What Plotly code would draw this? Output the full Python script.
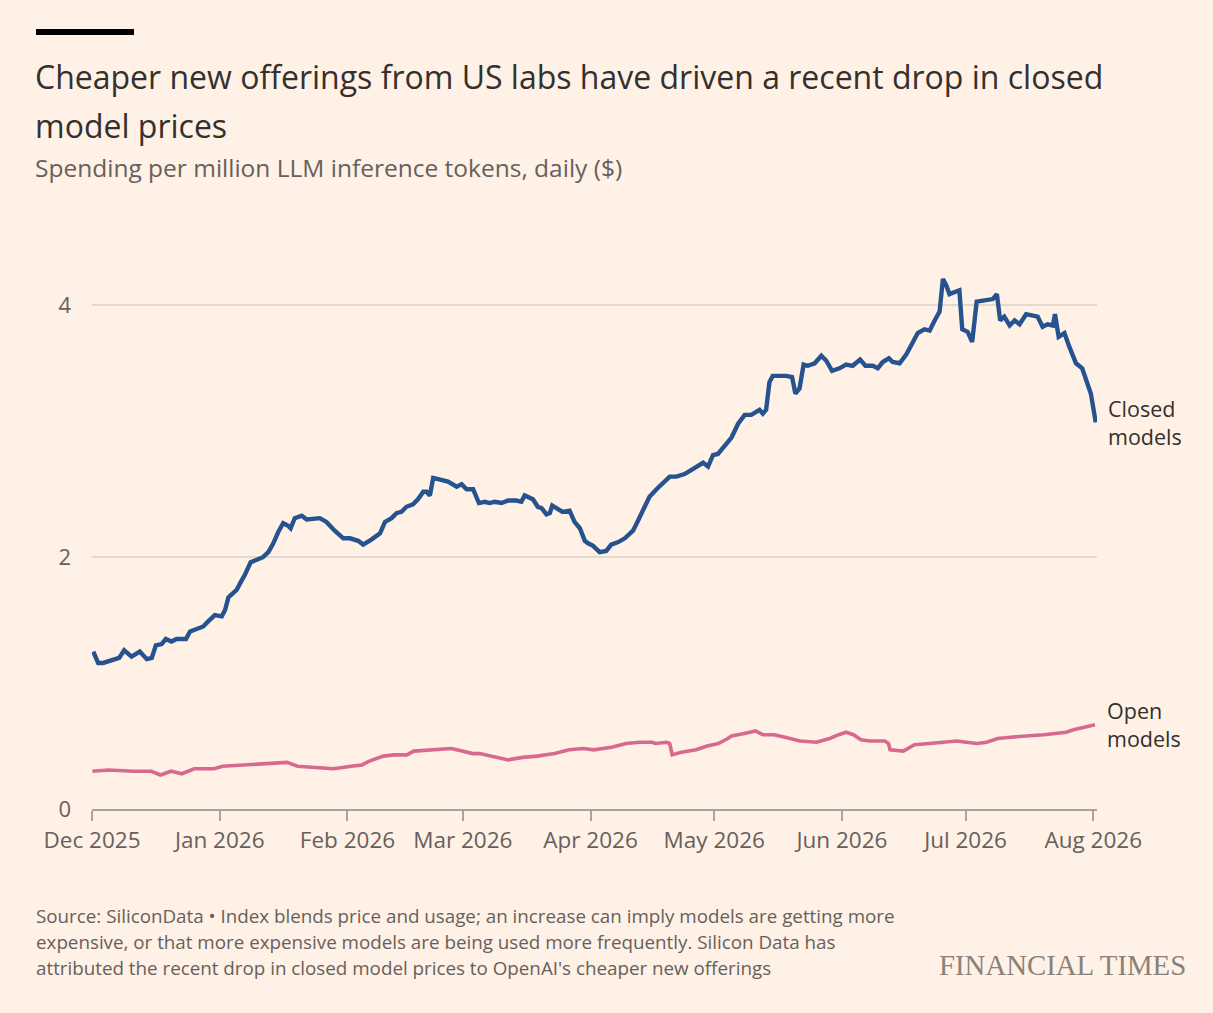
"""FT style line chart - closed vs open model token prices."""
import pandas as pd
import plotly.graph_objects as go

START = pd.Timestamp("2025-12-01")

# days since 1 Dec 2025 / value ($ per million tokens)
closed_days = [
    0.3, 1.5, 2.7, 5.2, 6.6, 7.8, 9.6, 11.6, 13.3, 14.5, 15.5, 16.9, 17.9, 19.3, 20.5,
    22.8, 23.8, 25.4, 27.0, 28.2, 29.8, 31.5, 32.3, 33.1, 34.3, 35.1, 35.9, 37.1, 38.5,
    39.9, 41.5, 42.8, 44.0, 45.2, 46.4, 47.6, 48.2, 49.2, 50.9, 52.1, 55.3, 56.9, 58.9,
    61.0, 62.6, 64.6, 65.8, 67.8, 69.9, 71.1, 72.7, 73.9, 75.1, 76.3, 77.9, 79.1, 80.4,
    81.2, 82.0, 82.8, 84.4, 86.4, 88.5, 89.7, 90.9, 92.5, 93.9, 95.3, 96.5, 97.7, 99.4,
    101.0, 103.0, 104.2, 105.0, 107.0, 108.2, 109.1, 110.3, 111.1, 111.7, 113.1, 114.2,
    115.9, 117.1, 118.4, 119.6, 120.4, 121.6, 123.2, 124.8, 126.0, 127.7, 129.3, 131.3,
    132.5, 133.7, 135.3, 137.0, 138.6, 140.2, 141.8, 143.8, 145.8, 148.3, 149.5, 150.7,
    151.9, 153.5, 155.2, 156.8, 158.4, 160.0, 161.2, 162.0, 162.8, 163.6, 164.4, 165.2,
    166.9, 168.5, 169.9, 170.7, 171.7, 172.7, 173.7, 175.4, 177.0, 178.2, 179.6, 181.4,
    183.0, 184.6, 186.4, 187.7, 189.5, 190.7, 191.9, 193.4, 194.3, 196.0, 197.6, 199.2,
    200.4, 202.0, 203.3, 204.5, 205.7, 206.5, 207.3, 208.1, 210.5, 211.2, 212.5, 213.6,
    214.7, 216.6, 218.6, 219.6, 220.4, 221.4, 222.7, 223.9, 225.1, 226.7, 228.3, 229.5,
    230.7, 231.9, 233.2, 233.7, 234.6, 236.0, 237.2, 238.8, 240.3, 241.2, 242.4, 243.6,
]
closed_vals = [
    1.25, 1.16, 1.16, 1.19, 1.20, 1.26, 1.21, 1.25, 1.19, 1.20, 1.30, 1.31, 1.35, 1.33, 1.35,
    1.35, 1.41, 1.43, 1.45, 1.49, 1.54, 1.53, 1.58, 1.68, 1.72, 1.74, 1.79, 1.86, 1.96,
    1.98, 2.00, 2.04, 2.11, 2.20, 2.27, 2.25, 2.23, 2.31, 2.33, 2.30, 2.31, 2.28, 2.21,
    2.15, 2.15, 2.13, 2.10, 2.14, 2.19, 2.28, 2.31, 2.35, 2.36, 2.40, 2.42, 2.46, 2.52,
    2.52, 2.49, 2.63, 2.62, 2.60, 2.56, 2.58, 2.54, 2.54, 2.43, 2.44, 2.43, 2.44, 2.43,
    2.45, 2.45, 2.44, 2.49, 2.46, 2.40, 2.39, 2.34, 2.35, 2.41, 2.38, 2.36,
    2.37, 2.28, 2.23, 2.13, 2.11, 2.09, 2.04, 2.05, 2.10, 2.12, 2.15, 2.21,
    2.29, 2.38, 2.48, 2.54, 2.59, 2.64, 2.64, 2.66, 2.70, 2.75, 2.72, 2.81,
    2.82, 2.89, 2.95, 3.06, 3.13, 3.13, 3.15, 3.17, 3.14, 3.17, 3.39, 3.44,
    3.44, 3.44, 3.43, 3.30, 3.34, 3.53, 3.52, 3.54, 3.60, 3.56, 3.48, 3.50,
    3.53, 3.52, 3.57, 3.52, 3.52, 3.50, 3.55, 3.58, 3.55, 3.54, 3.61, 3.70,
    3.78, 3.81, 3.80, 3.88, 3.95, 4.21, 4.16, 4.09, 4.12, 3.81, 3.79, 3.71,
    4.03, 4.04, 4.05, 4.09, 3.88, 3.91, 3.84, 3.88, 3.85, 3.93, 3.92, 3.91,
    3.83, 3.85, 3.84, 3.93, 3.75, 3.78, 3.67, 3.54, 3.50, 3.42, 3.30, 3.07,
]

open_days = [
    0.1, 4.0, 10.1, 14.4, 16.6, 19.2, 21.8, 24.8, 27.0, 29.6, 31.7, 36.1, 40.4, 47.3,
    49.9, 53.4, 58.6, 62.9, 65.5, 67.3, 70.7, 73.3, 76.4, 78.1, 82.0, 87.2, 89.8, 92.4,
    94.1, 96.7, 101.0, 104.5, 108.0, 112.3, 115.8, 119.2, 121.8, 126.1, 129.6, 132.9,
    135.9, 136.8, 139.5, 140.2, 140.8, 143.0, 146.6, 149.3, 152.0, 154.3, 155.2, 158.3,
    161.0, 162.8, 165.5, 168.2, 171.8, 175.8, 179.0, 181.2, 183.0, 184.8, 186.6, 188.8,
    192.4, 193.3, 193.7, 196.9, 199.6, 203.2, 206.8, 209.9, 212.2, 214.8, 217.1, 219.8,
    222.9, 227.4, 231.0, 236.4, 238.2, 240.8, 243.4,
]
open_vals = [
    0.30, 0.31, 0.30, 0.30, 0.27, 0.30, 0.28, 0.32, 0.32, 0.32, 0.34, 0.35, 0.36, 0.37,
    0.34, 0.33, 0.32, 0.34, 0.35, 0.38, 0.42, 0.43, 0.43, 0.46, 0.47, 0.48, 0.46, 0.44,
    0.44, 0.42, 0.39, 0.41, 0.42, 0.44, 0.47, 0.48, 0.47, 0.49, 0.52, 0.53,
    0.53, 0.52, 0.53, 0.52, 0.43, 0.45, 0.47, 0.50, 0.52, 0.56, 0.58, 0.60,
    0.62, 0.59, 0.59, 0.57, 0.54, 0.53, 0.56, 0.59, 0.61, 0.59, 0.55, 0.54,
    0.54, 0.52, 0.47, 0.46, 0.51, 0.52, 0.53, 0.54, 0.53, 0.52, 0.53, 0.56,
    0.57, 0.58, 0.59, 0.61, 0.63, 0.65, 0.67,
]

month_ticks = pd.date_range("2025-12-01", "2026-08-01", freq="MS")

BG = "#FFF1E5"
TXT = "#33302E"
MUTED = "#66605C"
FONT = "Open Sans, Noto Sans, sans-serif"

closed_x = START + pd.to_timedelta(closed_days, unit="D")
open_x = START + pd.to_timedelta(open_days, unit="D")

fig = go.Figure()
fig.add_trace(go.Scatter(x=open_x, y=open_vals, mode="lines", name="Open models",
                         line=dict(color="#D7698F", width=3.6), hoverinfo="x+y"))
fig.add_trace(go.Scatter(x=closed_x, y=closed_vals, mode="lines", name="Closed models",
                         line=dict(color="#26528F", width=4.4), hoverinfo="x+y"))

# end-of-line labels
for x, y, txt in [(closed_x[-1], closed_vals[-1], "Closed<br>models"),
                  (open_x[-1], open_vals[-1], "Open<br>models")]:
    fig.add_annotation(x=x, y=y, xref="x", yref="y", text=txt, showarrow=False,
                       xanchor="left", yanchor="middle", align="left", xshift=10,
                       font=dict(size=21.5, color=TXT, family=FONT))

# paper coords: plot area is x 92..1097 px, y 809..255 px
def px(x):
    return (x - 92) / 1005


def py(y):
    return (809 - y) / 554


head = [
    ("Cheaper new offerings from US labs have driven a recent drop in closed", 76, 32, TXT),
    ("model prices", 125, 32, TXT),
    ("Spending per million LLM inference tokens, daily ($)", 167, 24.5, MUTED),
]
for txt, y, size, col in head:
    fig.add_annotation(x=px(33), y=py(y), xref="paper", yref="paper", text=txt,
                       showarrow=False, xanchor="left", yanchor="middle",
                       font=dict(size=size, color=col, family=FONT))

source = [
    "Source: SiliconData • Index blends price and usage; an increase can imply models are getting more",
    "expensive, or that more expensive models are being used more frequently. Silicon Data has",
    "attributed the recent drop in closed model prices to OpenAI's cheaper new offerings",
]
for i, line in enumerate(source):
    fig.add_annotation(x=px(34), y=py(916 + 26 * i), xref="paper", yref="paper", text=line,
                       showarrow=False, xanchor="left", yanchor="middle",
                       font=dict(size=18.8, color=MUTED, family=FONT))

fig.add_annotation(x=px(1188), y=py(965), xref="paper", yref="paper", text="FINANCIAL TIMES",
                   showarrow=False, xanchor="right", yanchor="middle",
                   font=dict(size=28.8, color="#8A817C", family="Liberation Serif, serif"))

fig.add_shape(type="rect", xref="paper", yref="paper", x0=px(36), x1=px(134),
              y0=py(35), y1=py(29), fillcolor="#000000", line_width=0)

fig.update_layout(
    width=1213, height=1013,
    margin=dict(l=92, r=116, t=255, b=204),
    paper_bgcolor=BG, plot_bgcolor=BG,
    showlegend=False,
    font=dict(family=FONT, color=MUTED, size=21),
)
fig.update_xaxes(
    range=[START, START + pd.Timedelta(days=243.9)],
    tickvals=month_ticks, tickformat="%b %Y",
    showgrid=False, showline=True, linecolor="#A9A39E", linewidth=1.5,
    ticks="outside", ticklen=10, tickwidth=1.5, tickcolor="#A9A39E",
    tickfont=dict(size=22.5, color=MUTED), ticklabelstandoff=0,
)
fig.update_yaxes(
    range=[0, 4.4], tickvals=[0, 2, 4],
    showgrid=True, gridcolor="#E3D9CF", gridwidth=1.5, zeroline=False,
    showline=False, ticks="", ticklabelstandoff=20,
    tickfont=dict(size=22, color=MUTED),
)

# drop the page's default white body margin so the figure sits at 0,0
fig.write_html("out.html", config={"displayModeBar": False}, post_script=(
    "document.body.style.margin='0';"
    "document.body.style.background='#FFF1E5';"
))
